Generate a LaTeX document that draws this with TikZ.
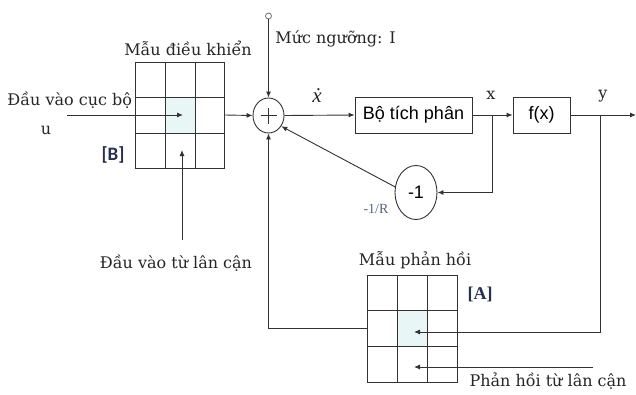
\documentclass[tikz,border=0pt]{standalone}
\usepackage{fontspec}
\setmainfont{DejaVu Serif}
\newfontfamily\timesf{Liberation Serif}
\newfontfamily\arialf{Liberation Sans}
\newfontfamily\calf{Carlito}
\usetikzlibrary{arrows.meta,shapes.geometric}
\definecolor{ln}{RGB}{50,50,50}
\definecolor{cellc}{RGB}{232,246,246}
\definecolor{brk}{RGB}{40,48,80}
\definecolor{rlab}{RGB}{90,100,130}
\tikzset{
  arr/.style={-{Latex[length=6pt,width=5pt]}},
  lbl/.style={font=\fontsize{16}{18}\selectfont, inner sep=0pt, text=black!85},
  blk/.style={draw=ln, rectangle, minimum height=36pt, inner sep=0pt, font=\arialf\fontsize{18}{20}\selectfont},
  gridbox/.style={draw=ln, rectangle, minimum width=89pt, minimum height=106pt, inner sep=0pt},
}
\begin{document}
\begin{tikzpicture}[x=1pt,y=-1pt,line width=0.9pt,draw=ln]
\useasboundingbox (0,0) rectangle (636,394);
% ---------- Grid B ----------
\fill[cellc] (165.5,97.5) rectangle (195,133);
\node[gridbox] (B) at (180,115) {};
\draw (165.5,62)--(165.5,168) (195,62)--(195,168) (135.5,97.5)--(224.5,97.5) (135.5,133)--(224.5,133);
\node[lbl] (Blab) at (188,48) {Mẫu điều khiển};
\node[lbl, anchor=west] (uin-lab) at (7,100) {Đầu vào cục bộ};
\node[lbl] (ulab) at (46,130) {u};
\node[inner sep=0pt, text=brk, font=\calf\bfseries\fontsize{19}{21}\selectfont] (Btag) at (113,155) {[B]};
\coordinate (uin) at (67,115);
\coordinate (Bc) at (183,115);
\draw[arr] (uin) -- (Bc);
\coordinate (nb) at (182,240);
\coordinate (nbt) at (182,150);
\draw[arr] (nb) -- (nbt);
\node[lbl] (nblab) at (176,263) {Đầu vào từ lân cận};
% ---------- Sum ----------
\node[draw=ln, ellipse, minimum width=31pt, minimum height=35pt, inner sep=0pt] (S) at (268.5,115.5) {};
\draw[line width=0.8pt] ([xshift=-8pt]S.center) -- ([xshift=8pt]S.center) ([yshift=-8pt]S.center) -- ([yshift=8pt]S.center);
\node[draw=ln!70, fill=white, circle, minimum size=6pt, inner sep=0pt, line width=0.8pt] (T) at (268.5,16) {};
\draw[arr] (T) -- (S.north);
\node[lbl, anchor=west] (Tlab) at (275,39) {Mức ngưỡng: I};
\draw[arr] (B.east) -- (S.west);
% ---------- Integrator & f(x) ----------
\node[blk, minimum width=117pt] (I) at (413.5,115) {Bộ tích phân};
\node[blk, minimum width=57pt] (F) at (541.5,115) {f(x)};
\draw[arr] (S.east) -- (I.west);
\node[lbl, font=\timesf\itshape\fontsize{21}{23}\selectfont] (xd) at (317,96) {ẋ};
\coordinate (jx) at (492,115);
\draw[arr] (I.east) -- (F.west);
\node[lbl] (xlab) at (491,95) {x};
\coordinate (jy) at (600,115);
\coordinate (out) at (636,115);
\draw[arr] (F.east) -- (out);
\node[lbl] (ylab) at (603,96) {y};
% ---------- -1 feedback ----------
\node[draw=ln, ellipse, minimum width=42pt, minimum height=54pt, inner sep=0pt, font=\arialf\fontsize{18}{20}\selectfont] (N) at (416,192.5) {-1};
\draw[arr] (jx) |- (N.east);
\draw[arr] (N.165) -- (S.-40);
\node[inner sep=0pt, text=rlab, font=\timesf\fontsize{14}{16}\selectfont] (Rlab) at (376,209) {-1/R};
% ---------- Grid A ----------
\fill[cellc] (397,310.5) rectangle (427,346);
\node[gridbox, minimum width=90pt, minimum height=107pt] (A) at (412,328.5) {};
\draw (397,275)--(397,382) (427,275)--(427,382) (367,310.5)--(457,310.5) (367,346)--(457,346);
\node[lbl] (Alab) at (415,260) {Mẫu phản hồi};
\node[inner sep=0pt, text=brk, font=\timesf\bfseries\fontsize{18}{20}\selectfont] (Atag) at (480,294) {[A]};
\coordinate (Ac) at (414,332);
\draw[arr] (jy) |- (Ac);
\coordinate (na) at (593,367);
\coordinate (nat) at (414,367);
\draw[arr] (na) -- (nat);
\node[lbl] (nalab) at (548,381) {Phản hồi từ lân cận};
\draw[arr] (A.west) -| (S.south);
\end{tikzpicture}
\end{document}
